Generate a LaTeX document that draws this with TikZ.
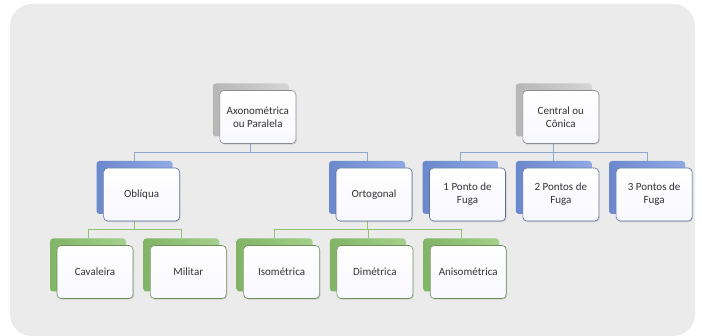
\documentclass[tikz,border=0pt]{standalone}
\usepackage{fontspec}
\setmainfont{Carlito}
\usetikzlibrary{shadows}
\definecolor{panel}{HTML}{EBEBEB}
\definecolor{txt}{HTML}{333333}
\definecolor{grayback}{HTML}{C6C6C6}
\definecolor{grayedge}{HTML}{8C8C8C}
\definecolor{blueback}{HTML}{7594DE}
\definecolor{blueedge}{HTML}{5B6F9A}
\definecolor{blueline}{HTML}{8DA8CF}
\definecolor{greenback}{HTML}{8CC46E}
\definecolor{greenedge}{HTML}{6F8F5E}
\definecolor{greenline}{HTML}{8FC271}
\tikzset{
  card/.style={minimum width=76pt, minimum height=53pt, rounded corners=4pt,
    inner sep=0pt, align=center, font=\fontsize{11}{13}\selectfont, text=txt,
    top color=white, bottom color=white!93!blue!40!white, line width=0.6pt,
    drop shadow={shadow xshift=1pt, shadow yshift=-1.2pt, opacity=0.25}},
  back/.style={minimum width=76pt, minimum height=53pt, rounded corners=3pt,
    inner sep=0pt, draw=none},
  grayback/.style={back, left color=grayback!92!black, right color=grayback!75!white},
  blueback/.style={back, left color=blueback!92!black, right color=blueback!80!white},
  greenback/.style={back, left color=greenback!92!black, right color=greenback!80!white},
  graycard/.style={card, draw=grayedge},
  bluecard/.style={card, draw=blueedge},
  greencard/.style={card, draw=greenedge},
  bluelink/.style={draw=blueline, line width=0.8pt},
  greenlink/.style={draw=greenline, line width=0.8pt},
}
\begin{document}
\begin{tikzpicture}[x=1pt, y=-1pt]
  \useasboundingbox (0,0) rectangle (702,336);
  % grey panel behind the chart
  \fill[panel, rounded corners=22pt] (10,4) rectangle (695,336);

  % back plates (offset up and left of each card)
  \node[grayback]  (axo-s) at (250.8,110) {};
  \node[grayback]  (cen-s) at (553.8,110) {};
  \node[blueback]  (obl-s) at (134.6,187.5) {};
  \node[blueback]  (ort-s) at (367,187.5) {};
  \node[blueback]  (p1-s)  at (460.5,187.5) {};
  \node[blueback]  (p2-s)  at (553.8,187.5) {};
  \node[blueback]  (p3-s)  at (647.1,187.5) {};
  \node[greenback] (cav-s) at (88,265) {};
  \node[greenback] (mil-s) at (181.3,265) {};
  \node[greenback] (iso-s) at (274.6,265) {};
  \node[greenback] (dim-s) at (367.9,265) {};
  \node[greenback] (ani-s) at (461.2,265) {};

  % connectors: level 1 to level 2
  \path[bluelink] (axo-s.center |- 0,143) -- (axo-s.center |- 0,152)
    (obl-s.center |- 0,152) -- (ort-s.center |- 0,152)
    (obl-s.center |- 0,152) -- (obl-s.north)
    (ort-s.center |- 0,152) -- (ort-s.north);
  \path[bluelink] (cen-s.center |- 0,143) -- (cen-s.center |- 0,152)
    (p1-s.center |- 0,152) -- (p3-s.center |- 0,152)
    (p1-s.center |- 0,152) -- (p1-s.north)
    (p2-s.center |- 0,152) -- (p2-s.north)
    (p3-s.center |- 0,152) -- (p3-s.north);
  % connectors: level 2 to level 3
  \path[greenlink] (obl-s.center |- 0,221) -- (obl-s.center |- 0,229.5)
    (cav-s.center |- 0,229.5) -- (mil-s.center |- 0,229.5)
    (cav-s.center |- 0,229.5) -- (cav-s.north)
    (mil-s.center |- 0,229.5) -- (mil-s.north);
  \path[greenlink] (ort-s.center |- 0,221) -- (ort-s.center |- 0,229.5)
    (iso-s.center |- 0,229.5) -- (ani-s.center |- 0,229.5)
    (iso-s.center |- 0,229.5) -- (iso-s.north)
    (dim-s.center |- 0,229.5) -- (dim-s.north)
    (ani-s.center |- 0,229.5) -- (ani-s.north);

  % cards
  \node[graycard]  (axo) at (257.8,117) {Axonométrica\\ou Paralela};
  \node[graycard]  (cen) at (560.8,117) {Central ou\\Cônica};
  \node[bluecard]  (obl) at (141.6,194.5) {Oblíqua};
  \node[bluecard]  (ort) at (374,194.5) {Ortogonal};
  \node[bluecard]  (p1)  at (467.5,194.5) {1 Ponto de\\Fuga};
  \node[bluecard]  (p2)  at (560.8,194.5) {2 Pontos de\\Fuga};
  \node[bluecard]  (p3)  at (654.1,194.5) {3 Pontos de\\Fuga};
  \node[greencard] (cav) at (95,272) {Cavaleira};
  \node[greencard] (mil) at (188.3,272) {Militar};
  \node[greencard] (iso) at (281.6,272) {Isométrica};
  \node[greencard] (dim) at (374.9,272) {Dimétrica};
  \node[greencard] (ani) at (468.2,272) {Anisométrica};
\end{tikzpicture}
\end{document}
